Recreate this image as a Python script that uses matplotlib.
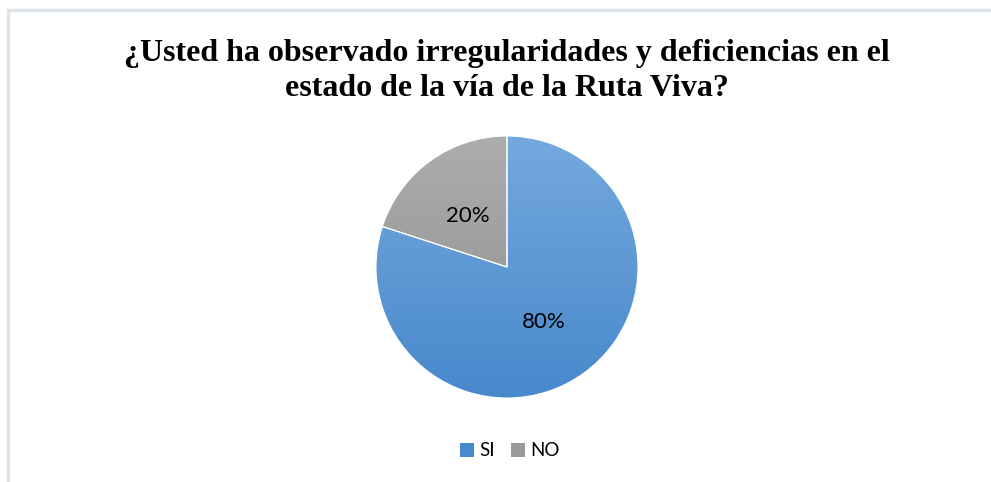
import numpy as np
import matplotlib
matplotlib.use("Agg")
import matplotlib.pyplot as plt
from matplotlib.patches import Wedge, Rectangle

labels = ["SI", "NO"]
values = [80, 20]
top_colors = ["#74a9de", "#adadad"]
bottom_colors = ["#4888cc", "#8d8d8d"]
title = "¿Usted ha observado irregularidades y deficiencias en el\nestado de la vía de la Ruta Viva?"

W, H = 991, 482
fig = plt.figure(figsize=(W / 100, H / 100), dpi=100)
fig.patch.set_facecolor("white")

# outer chart border
fig.add_artist(Rectangle((8 / W, -0.1), 1.2, 1 - 9.5 / H + 0.1, transform=fig.transFigure,
                         fill=False, edgecolor="#dfe4ea", linewidth=2.5))

fig.text(507 / W, 1 - 71 / H, title, ha="center", va="center", fontsize=23,
         fontweight="bold", family="Liberation Serif", linespacing=1.3)

# pie axes: center (507, 267), radius 131
r = 131
ax = fig.add_axes([(507 - r) / W, 1 - (267 + r) / H, 2 * r / W, 2 * r / H])
ax.set_xlim(-1, 1)
ax.set_ylim(-1, 1)
ax.set_aspect("equal")
ax.axis("off")

wedges, _ = ax.pie(values, startangle=90, counterclock=False, radius=1,
                   colors=top_colors, wedgeprops=dict(linewidth=0.8, edgecolor="white"))

def grad(c1, c2):
    a = np.array(matplotlib.colors.to_rgb(c1))
    b = np.array(matplotlib.colors.to_rgb(c2))
    t = np.linspace(0, 1, 256)[:, None]
    return (a * (1 - t) + b * t)[:, None, :]

for w, c1, c2 in zip(wedges, top_colors, bottom_colors):
    im = ax.imshow(grad(c1, c2), extent=[-1, 1, -1, 1], origin="upper",
                   aspect="auto", zorder=w.get_zorder() + 0.1)
    im.set_clip_path(w)
ax.set_xlim(-1, 1)
ax.set_ylim(-1, 1)

# white separator lines on top
for w in wedges:
    w2 = Wedge(w.center, w.r, w.theta1, w.theta2, facecolor="none",
               edgecolor="white", linewidth=0.8, zorder=5)
    ax.add_patch(w2)

fig.text(468 / W, 1 - 216 / H, "20%", ha="center", va="center", fontsize=16, family="Lato")
fig.text(544 / W, 1 - 322 / H, "80%", ha="center", va="center", fontsize=16, family="Lato")

# legend
lx = [460, 511]
for i, lab in enumerate(labels):
    fig.add_artist(Rectangle((lx[i] / W, 1 - 457 / H), 14 / W, 14 / H,
                             transform=fig.transFigure, facecolor=bottom_colors[i] if i == 0 else "#9a9a9a",
                             edgecolor="none"))
    fig.text((lx[i] + 19) / W, 1 - 450 / H, lab, ha="left", va="center", fontsize=13.5, family="Lato")

fig.savefig("out.png", dpi=100)
